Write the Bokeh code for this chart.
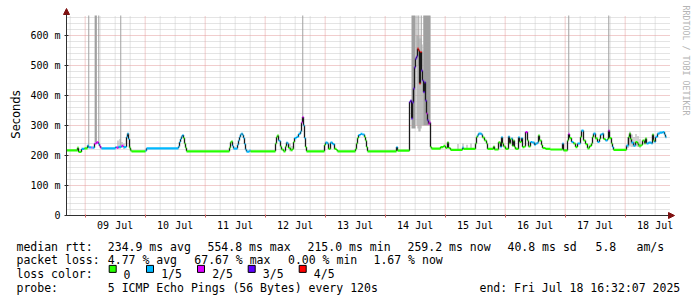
import math
from bokeh.plotting import figure
from bokeh.models import Range1d, FixedTicker, LinearAxis, Arrow, NormalHead, ColumnDataSource
from bokeh.embed import file_html
from bokeh.resources import INLINE
from bokeh.core.properties import value

# ---------------- data ----------------
START_H = 16 + 32 / 60 + 7 / 3600      # Jul 8 16:32:07 as hours since Jul 8 00:00
SPAN_H = 240.0                         # 10 days shown
Y_TOP = 666.667                        # ms at top of plot

day_label_hours = [36, 60, 84, 108, 132, 156, 180, 204, 228, 252]
day_labels = ["09 Jul", "10 Jul", "11 Jul", "12 Jul", "13 Jul",
              "14 Jul", "15 Jul", "16 Jul", "17 Jul", "18 Jul"]
y_ticks = [0, 100, 200, 300, 400, 500, 600]
y_tick_labels = ["0", "100 m", "200 m", "300 m", "400 m", "500 m", "600 m"]

# median rtt steps: hours since chart start, ms, lost pings (of 5)
t_h = [0.0, 4.4, 4.8, 6.0, 7.2, 8.4, 8.8, 10.0, 10.4, 11.2, 12.0, 12.8, 13.2, 13.6, 14.0,
       19.6, 20.0, 20.8, 22.0, 22.8, 24.0, 24.4, 24.8, 25.2, 25.6, 26.0, 31.6, 32.0,
       44.8, 45.2, 45.6, 46.0, 46.4, 46.8, 47.2, 47.6, 48.0,
       65.2, 65.6, 66.0, 66.4, 66.8, 68.4, 68.8, 69.2, 69.6, 70.0, 70.4, 70.8, 71.2, 71.6, 72.0, 73.2, 73.6,
       83.6, 84.0, 84.4, 84.8, 85.2, 85.6, 86.0, 86.8, 87.6, 88.0, 88.4, 88.8, 89.6, 90.4, 90.8, 91.2,
       92.0, 92.8, 93.6, 94.0, 94.4, 94.8, 95.2, 95.6, 96.0,
       103.2, 103.6, 104.4, 104.8, 105.6, 106.4, 107.2, 108.0, 108.4,
       115.6, 116.0, 116.4, 116.8, 117.6, 118.4, 119.2, 119.6, 120.0, 120.4,
       132.0, 132.4,
       137.2, 137.6, 138.0, 138.4, 138.8, 139.2, 139.6, 140.0, 140.4, 140.8, 141.2, 141.6, 142.0,
       142.4, 142.8, 143.2, 143.6, 144.0, 144.4, 144.8, 145.2, 145.6, 146.0,
       149.6, 150.8, 151.6, 152.4, 152.8, 153.6, 158.4, 158.8,
       163.6, 164.0, 164.4, 164.8, 166.0, 166.4, 167.2, 168.0, 168.4, 170.8, 171.2,
       172.8, 173.6, 174.0, 174.4, 174.8, 175.6, 176.8, 177.2, 177.6, 178.0, 178.4, 178.8, 179.2, 179.6,
       180.8, 181.2, 182.0, 182.4, 183.2, 183.6, 184.4, 184.8, 185.6, 186.4, 187.2, 187.6, 188.4,
       188.8, 189.2, 190.0, 190.4, 191.6, 193.6,
       198.4, 198.8, 200.4, 200.8, 201.2, 202.0, 202.8, 203.6, 204.4, 205.6, 206.0, 206.8, 207.6, 208.4,
       209.2, 210.0, 210.4, 210.8, 211.6, 212.4, 213.2, 213.6, 214.4, 214.8, 215.6, 216.4, 216.8,
       217.2, 218.0, 218.4, 218.8,
       224.0, 224.8, 225.2, 225.6, 226.0, 226.8, 227.6, 228.4, 228.8, 230.0, 230.4, 231.2, 231.6,
       232.0, 232.8, 234.0, 234.4, 234.8, 235.2, 235.6, 236.4, 237.2, 238.4, 239.2, 239.6]
rtt_ms = [217, 226, 212, 222, 224, 233, 227, 226, 226, 240, 244, 238, 232, 226, 224,
          228, 226, 229, 232, 228, 262, 273, 255, 226, 217, 214, 216, 224,
          230, 245, 255, 263, 268, 258, 240, 226, 214,
          226, 244, 247, 232, 223, 236, 250, 262, 270, 273, 268, 258, 238, 220, 213, 216, 214,
          240, 262, 267, 250, 248, 230, 220, 214, 230, 243, 240, 225, 218, 222, 245, 258,
          262, 272, 280, 310, 328, 300, 258, 228, 214,
          235, 243, 240, 222, 243, 238, 222, 218, 214,
          222, 240, 258, 268, 272, 270, 262, 250, 228, 214,
          228, 216,
          378, 383, 323, 377, 423, 494, 523, 530, 556, 550, 440, 545, 483,
          450, 411, 444, 383, 340, 317, 306, 310, 228, 223,
          228, 232, 225, 244, 225, 219, 226, 222,
          240, 262, 267, 273, 270, 260, 250, 240, 222, 230, 220,
          244, 228, 261, 240, 230, 222, 263, 240, 255, 257, 232, 250, 228, 222,
          261, 245, 258, 228, 230, 278, 250, 230, 245, 243, 235, 240, 243,
          267, 250, 235, 225, 222, 220,
          240, 217, 250, 272, 258, 245, 240, 228, 240, 262, 283, 250, 238, 224,
          232, 240, 262, 273, 257, 245, 255, 270, 273, 255, 250, 255, 283,
          258, 240, 228, 219,
          233, 262, 273, 255, 243, 233, 245, 240, 233, 235, 250, 240, 257,
          240, 243, 240, 270, 250, 245, 262, 273, 276, 278, 270, 261]
loss_n = [0, 0, 0, 1, 0, 1, 1, 2, 1, 2, 2, 1, 2, 2, 1,
          1, 2, 1, 2, 1, 1, 1, 1, 0, 0, 0, 1, 1,
          1, 1, 1, 1, 1, 0, 0, 0, 0,
          0, 0, 0, 1, 1, 1, 1, 1, 1, 1, 1, 1, 1, 1, 1, 1, 0,
          0, 0, 0, 1, 1, 0, 0, 0, 0, 1, 1, 0, 0, 0, 0, 1,
          1, 1, 1, 2, 2, 1, 1, 0, 0,
          0, 1, 1, 0, 1, 1, 0, 0, 0,
          0, 0, 0, 1, 1, 1, 0, 0, 0, 0,
          1, 0,
          3, 3, 3, 3, 3, 3, 3, 3, 4, 4, 4, 4, 3,
          3, 3, 3, 3, 2, 3, 2, 2, 0, 0,
          0, 0, 0, 0, 0, 0, 1, 0,
          0, 0, 1, 1, 1, 0, 0, 0, 0, 0, 0,
          0, 1, 1, 0, 0, 0, 1, 0, 0, 1, 0, 0, 0, 0,
          1, 0, 1, 0, 0, 2, 0, 0, 1, 1, 1, 1, 1,
          0, 0, 0, 0, 0, 0,
          1, 0, 0, 2, 0, 1, 0, 0, 1, 0, 1, 0, 0, 0,
          0, 0, 0, 1, 0, 1, 0, 1, 1, 0, 1, 0, 2,
          0, 0, 1, 0,
          1, 0, 0, 0, 1, 1, 0, 0, 0, 0, 0, 0, 0,
          1, 1, 1, 0, 0, 1, 1, 1, 1, 1, 1, 1]

# smoke (spread of individual pings)
smoke_t = [20.4, 21.2, 22.0, 22.8, 89.2, 90.0, 140.0, 140.4, 140.8, 141.2, 141.6, 142.0, 142.4,
           156.4, 158.4, 160.0, 161.6, 224.4, 225.2, 226.0, 226.8, 227.6, 228.4, 229.2]
smoke_lo = [222, 222, 225, 222, 214, 214, 300, 290, 280, 280, 290, 300, 300,
            219, 220, 220, 220, 225, 230, 228, 228, 230, 228, 225]
smoke_hi = [250, 255, 245, 240, 240, 232, 600, 600, 590, 600, 590, 570, 550,
            238, 240, 236, 240, 262, 280, 270, 262, 272, 265, 255]

# pings that went off the top of the scale
spike_t = [8.9, 11.7, 12.9, 21.7, 94.5, 138.8, 140.2, 140.9, 141.9, 144.15, 200.9, 216.9]
spike_w = [0.4, 0.9, 0.4, 0.4, 0.4, 1.6, 0.4, 0.4, 0.4, 2.9, 0.4, 0.4]
spike_lo = [233, 244, 238, 232, 328, 290, 520, 500, 480, 300, 272, 283]

loss_labels = ["0", "1/5", "2/5", "3/5", "4/5"]
loss_colors = ["#26ff00", "#00b8ff", "#dd00ff", "#5e00ff", "#ff0000"]

rtt_stats = ["234.9 ms avg", "554.8 ms max", "215.0 ms min", "259.2 ms now", "40.8 ms sd", "5.8", "am/s"]
loss_stats = ["4.77 % avg", "67.67 % max", "0.00 % min", "1.67 % now"]

assert len(t_h) == len(rtt_ms) == len(loss_n)

# ---------------- layout (canvas pixels) ----------------
W, H = 697, 297
FL, FR, FT, FB = 66, 666, 15, 215
PX_H = (FR - FL) / SPAN_H
PX_MS = (FB - FT) / Y_TOP


def dx(px):
    return START_H + (px - FL) / PX_H


def dy(py):
    return (FB - py) / PX_MS


MONO = "DejaVu Sans Mono"

p = figure(width=W, height=H, title=None,
           x_range=Range1d(dx(0), dx(W)), y_range=Range1d(dy(H), dy(0)),
           output_backend="svg", toolbar_location=None,
           x_axis_type=None, y_axis_type=None, min_border=0)
p.outline_line_color = None
p.background_fill_color = "white"
p.border_fill_color = "white"
p.grid.visible = False

# ---- grid ----
X_END = START_H + SPAN_H
GRID_X_END = dx(669)
midnights = list(range(24, 241, 24))
six_h = [h for h in range(18, 258, 6) if h % 24 != 0 and START_H < h < X_END]
minor_y = [v for v in range(20, 667, 20) if v % 100 != 0]
major_y = y_ticks[1:]

p.segment(x0=six_h, y0=0, x1=six_h, y1=Y_TOP, line_color="#c8c8c8", line_dash="1 1", line_width=1)
p.segment(x0=START_H, y0=minor_y, x1=GRID_X_END, y1=minor_y, line_color="#c8c8c8", line_dash="1 1", line_width=1)
p.segment(x0=midnights, y0=0, x1=midnights, y1=Y_TOP, line_color="#e39a9a", line_dash="1 1", line_width=1)
p.segment(x0=START_H, y0=major_y, x1=GRID_X_END, y1=major_y, line_color="#e39a9a", line_dash="1 1", line_width=1)

# ---- off-scale pings ----
p.vbar(x=[START_H + t for t in spike_t], width=spike_w, bottom=spike_lo, top=Y_TOP,
       fill_color="#a0a0a0", line_color=None)
# ---- smoke ----
p.vbar(x=[START_H + t + 0.2 for t in smoke_t], width=0.4, bottom=smoke_lo, top=smoke_hi,
       fill_color="#a8a8a8", line_color=None)

# ---- median line: horizontal steps coloured by loss, dark vertical joins ----
t_next = t_h[1:] + [SPAN_H]
seg = ColumnDataSource(dict(
    x0=[START_H + t for t in t_h], x1=[START_H + t for t in t_next],
    y=rtt_ms, c=[loss_colors[k] for k in loss_n]))
vs = ColumnDataSource(dict(
    x=[START_H + t for t in t_h[1:]], y0=rtt_ms[:-1], y1=rtt_ms[1:]))
p.segment(x0="x", y0="y0", x1="x", y1="y1", source=vs, line_color="#1a1a1a", line_width=1.3)
p.segment(x0="x0", y0="y", x1="x1", y1="y", source=seg, line_color="c", line_width=2.2)

# ---- axes (fixed inside the full-canvas frame) ----
xa = LinearAxis(fixed_location=0, bounds=(START_H, X_END))
xa.ticker = FixedTicker(ticks=day_label_hours, minor_ticks=midnights)
xa.major_label_overrides = {h: s for h, s in zip(day_label_hours, day_labels)}
xa.major_tick_line_color = None
xa.major_tick_in = 0
xa.major_tick_out = 0
xa.minor_tick_line_color = "#d06060"
xa.minor_tick_in = 1
xa.minor_tick_out = 2
xa.major_label_standoff = 2
xa.major_label_text_font = MONO
xa.major_label_text_font_size = "10px"
xa.major_label_text_color = "#000000"
xa.axis_line_color = "#303030"
p.add_layout(xa, "below")

ya = LinearAxis(fixed_location=START_H, bounds=(0, Y_TOP))
ya.ticker = FixedTicker(ticks=y_ticks)
ya.major_label_overrides = {v: s for v, s in zip(y_ticks, y_tick_labels)}
ya.major_tick_in = 2
ya.major_tick_out = 2
ya.major_tick_line_color = "#303030"
ya.minor_tick_line_color = None
ya.major_label_standoff = 4
ya.major_label_text_font = MONO
ya.major_label_text_font_size = "10px"
ya.major_label_text_color = "#000000"
ya.axis_line_color = "#303030"
p.add_layout(ya, "left")

# ---- axis arrows ----
p.add_layout(Arrow(end=NormalHead(size=6, fill_color="#7f1010", line_color="#7f1010"),
                   x_start=START_H, y_start=Y_TOP - 5, x_end=START_H, y_end=dy(8),
                   line_color="#303030", line_width=1))
p.add_layout(Arrow(end=NormalHead(size=6, fill_color="#7f1010", line_color="#7f1010"),
                   x_start=X_END - 2, y_start=0, x_end=dx(674), y_end=0,
                   line_color="#303030", line_width=1))

# ---- side texts ----
p.text(x=[dx(15)], y=[dy(114)], text=["Seconds"], angle=math.pi / 2,
       text_align="center", text_baseline="alphabetic",
       text_font=value("DejaVu Sans"), text_font_size=value("11.5px"), text_color="#000000")
p.text(x=[dx(685)], y=[dy(5)], text=["RRDTOOL / TOBI OETIKER"], angle=-math.pi / 2,
       text_align="left", text_baseline="alphabetic",
       text_font=value(MONO), text_font_size=value("8.3px"), text_color="#b4b4b4")

# ---- legend block ----
b1, b2, b3, b4 = 246, 259.8, 273.5, 287.3
lx, ly, lt = [], [], []


def put(x, y, s):
    lx.append(dx(x)); ly.append(dy(y)); lt.append(s)


put(16, b1, "median rtt:")
for x, s in zip([107.3, 207, 307, 407, 507, 595, 636], rtt_stats):
    put(x, b1, s)
put(16, b2, "packet loss:")
for x, s in zip([107.3, 193.8, 287.5, 373], loss_stats):
    put(x, b2, s)
put(16, b3, "loss color:")
for x, s in zip([123, 160.7, 211.7, 262.3, 313.3], loss_labels):
    put(x, b3, s)
put(16, b4, "probe:")
put(107.3, b4, "5 ICMP Echo Pings (56 Bytes) every 120s")
put(479, b4, "end: Fri Jul 18 16:32:07 2025")

p.text(x="x", y="y", text="t", source=ColumnDataSource(dict(x=lx, y=ly, t=lt)),
       text_font=value(MONO), text_font_size=value("11.5px"), text_color="#000000",
       text_align="left", text_baseline="alphabetic")
p.rect(x=[dx(c) for c in [112.2, 149.5, 200.5, 251.2, 302.2]], y=[dy(268.4)] * 5,
       width=7, height=7, width_units="screen", height_units="screen",
       fill_color=loss_colors, line_color="#000000", line_width=1)

open("out.html", "w").write(file_html(p, INLINE))
